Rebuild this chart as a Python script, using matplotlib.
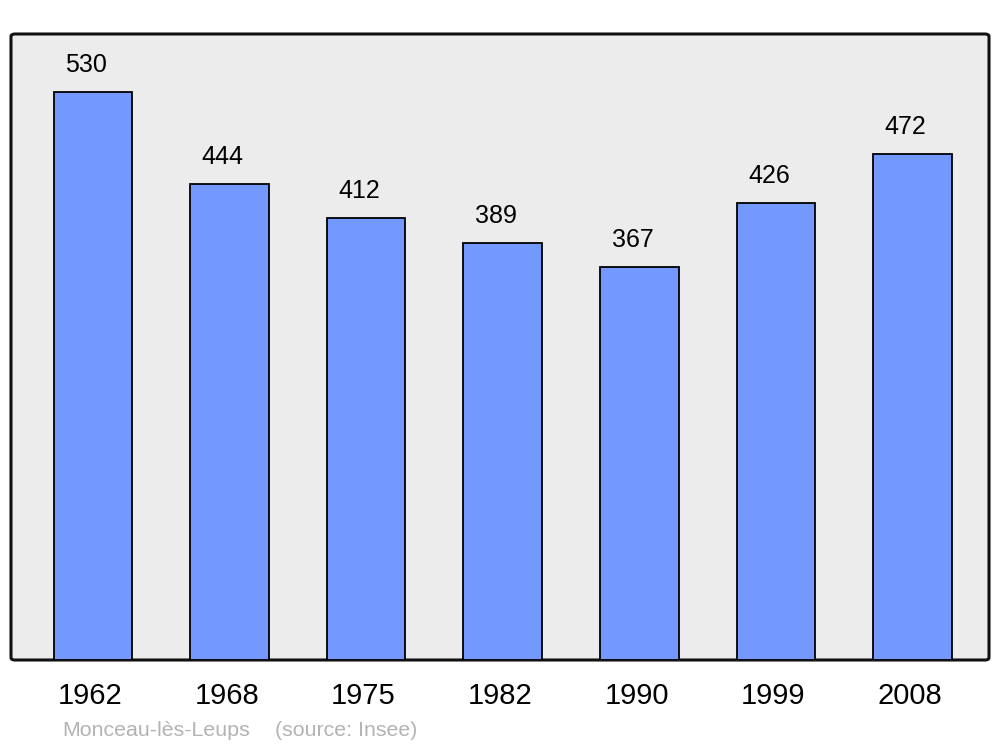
import matplotlib
matplotlib.use("Agg")
import matplotlib.pyplot as plt
from matplotlib.patches import FancyBboxPatch

plt.rcParams['font.family'] = ['Liberation Sans', 'DejaVu Sans']

# Population data
years = ['1962', '1968', '1975', '1982', '1990', '1999', '2008']
population = [530, 444, 412, 389, 367, 426, 472]

fig = plt.figure(figsize=(10, 7.47), dpi=100)
# axes box: x 11..989, y 34..660 px
ax = fig.add_axes([0.011, 1 - 660 / 747, 0.978, 626 / 747])
ax.set_facecolor('none')

# rounded grey frame
frame = FancyBboxPatch((0, 0), 1, 1, boxstyle='round,pad=0,rounding_size=0.004',
                       transform=ax.transAxes, facecolor='#ececec',
                       edgecolor='#111111', linewidth=2.2, zorder=0, clip_on=False)
ax.add_patch(frame)

x = range(len(years))
bars = ax.bar(x, population, width=0.575, color='#7399ff', edgecolor='black',
              linewidth=1.3, zorder=2)

for xi, v in zip(x, population):
    ax.text(xi - 0.05, v + 14, str(v), ha='center', va='bottom', fontsize=18)

ax.set_xlim(-0.6, 6.56)
ax.set_ylim(0, 584)
for s in ax.spines.values():
    s.set_visible(False)
ax.set_yticks([])
ax.set_xticks([xi - 0.02 for xi in x])
ax.set_xticklabels(years, fontsize=21)
ax.tick_params(axis='x', length=0, pad=16)

# footer
fy = 1 - 730 / 747
fig.text(0.062, fy, 'Monceau-lès-Leups', color='#b3b3b3', fontsize=15.4,
         va='center', ha='left')
fig.text(0.275, fy, '(source: Insee)', color='#b3b3b3', fontsize=15.4,
         va='center', ha='left')

fig.savefig('out.png', dpi=100)
